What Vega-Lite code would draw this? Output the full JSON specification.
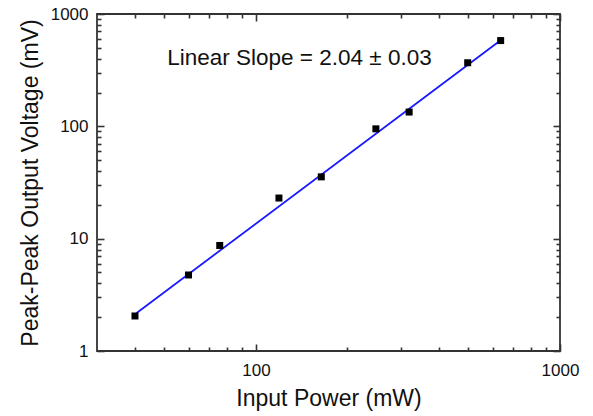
{
  "$schema": "https://vega.github.io/schema/vega-lite/v6.json",
  "width": 463,
  "height": 337,
  "autosize": "none",
  "padding": {"left": 97, "top": 14, "right": 33, "bottom": 65},
  "background": "white",
  "config": {
    "view": {"stroke": "#333333", "strokeWidth": 1.8},
    "font": "Liberation Sans",
    "axis": {
      "grid": false,
      "domain": false,
      "tickColor": "#333333",
      "tickWidth": 1.6,
      "labelColor": "#111111",
      "titleColor": "#111111",
      "labelFont": "Liberation Sans",
      "titleFont": "Liberation Sans",
      "labelFontSize": 17,
      "titleFontSize": 23,
      "titleFontWeight": "normal",
      "labelFlush": false
    }
  },
  "datasets": {
    "points": [
      {"power": 40, "voltage": 2.05},
      {"power": 60, "voltage": 4.75},
      {"power": 76, "voltage": 8.7},
      {"power": 119, "voltage": 23},
      {"power": 164, "voltage": 35.5},
      {"power": 248, "voltage": 95},
      {"power": 319, "voltage": 134},
      {"power": 497, "voltage": 368},
      {"power": 638, "voltage": 580}
    ],
    "fit": [
      {"power": 40.4, "voltage": 2.17},
      {"power": 630, "voltage": 568}
    ],
    "note": [
      {"power": 139, "voltage": 352, "label": "Linear Slope = 2.04 ± 0.03"}
    ]
  },
  "layer": [
    {
      "data": {"name": "note"},
      "mark": {"type": "point", "opacity": 0},
      "encoding": {
        "x": {
          "field": "power", "type": "quantitative",
          "scale": {"type": "log", "domain": [30, 1000], "nice": false, "zero": false},
          "axis": {"orient": "bottom", "title": null, "labels": false, "tickSize": -4,
            "values": [40, 50, 60, 70, 80, 90, 200, 300, 400, 500, 600, 700, 800, 900]}
        },
        "y": {
          "field": "voltage", "type": "quantitative",
          "scale": {"type": "log", "domain": [1, 1000], "nice": false, "zero": false},
          "axis": {"orient": "left", "title": null, "labels": false, "tickSize": -4,
            "values": [2, 3, 4, 5, 6, 7, 8, 9, 20, 30, 40, 50, 60, 70, 80, 90, 200, 300, 400, 500, 600, 700, 800, 900]}
        }
      }
    },
    {
      "data": {"name": "fit"},
      "mark": {"type": "line", "color": "#1a1aff", "strokeWidth": 1.8},
      "encoding": {
        "x": {
          "field": "power", "type": "quantitative",
          "scale": {"type": "log", "domain": [30, 1000], "nice": false, "zero": false},
          "axis": {"orient": "top", "title": null, "labels": false, "tickSize": -7, "values": [100, 1000]}
        },
        "y": {
          "field": "voltage", "type": "quantitative",
          "scale": {"type": "log", "domain": [1, 1000], "nice": false, "zero": false},
          "axis": {"orient": "right", "title": null, "labels": false, "tickSize": -7, "values": [1, 10, 100, 1000]}
        }
      }
    },
    {
      "data": {"name": "points"},
      "mark": {"type": "square", "size": 49, "color": "black", "opacity": 1},
      "encoding": {
        "x": {
          "field": "power", "type": "quantitative",
          "scale": {"type": "log", "domain": [30, 1000], "nice": false, "zero": false},
          "axis": {
            "orient": "bottom", "title": "Input Power (mW)", "format": "d",
            "values": [100, 1000],
            "tickSize": -7,
            "labelPadding": 18,
            "titlePadding": 9
          }
        },
        "y": {
          "field": "voltage", "type": "quantitative",
          "scale": {"type": "log", "domain": [1, 1000], "nice": false, "zero": false},
          "axis": {
            "orient": "left", "title": "Peak-Peak Output Voltage (mV)", "format": "d",
            "values": [1, 10, 100, 1000],
            "tickSize": -7,
            "labelPadding": 16,
            "titlePadding": 8
          }
        }
      }
    },
    {
      "data": {"name": "note"},
      "mark": {"type": "text", "fontSize": 22.5, "font": "Liberation Sans", "color": "#111111", "align": "center", "baseline": "alphabetic"},
      "encoding": {
        "x": {
          "field": "power", "type": "quantitative",
          "scale": {"type": "log", "domain": [30, 1000], "nice": false, "zero": false},
          "axis": {"orient": "top", "title": null, "labels": false, "tickSize": -4,
            "values": [40, 50, 60, 70, 80, 90, 200, 300, 400, 500, 600, 700, 800, 900]}
        },
        "y": {
          "field": "voltage", "type": "quantitative",
          "scale": {"type": "log", "domain": [1, 1000], "nice": false, "zero": false},
          "axis": {"orient": "right", "title": null, "labels": false, "tickSize": -4,
            "values": [2, 3, 4, 5, 6, 7, 8, 9, 20, 30, 40, 50, 60, 70, 80, 90, 200, 300, 400, 500, 600, 700, 800, 900]}
        },
        "text": {"field": "label"}
      }
    }
  ],
  "resolve": {"axis": {"x": "independent", "y": "independent"}}
}
